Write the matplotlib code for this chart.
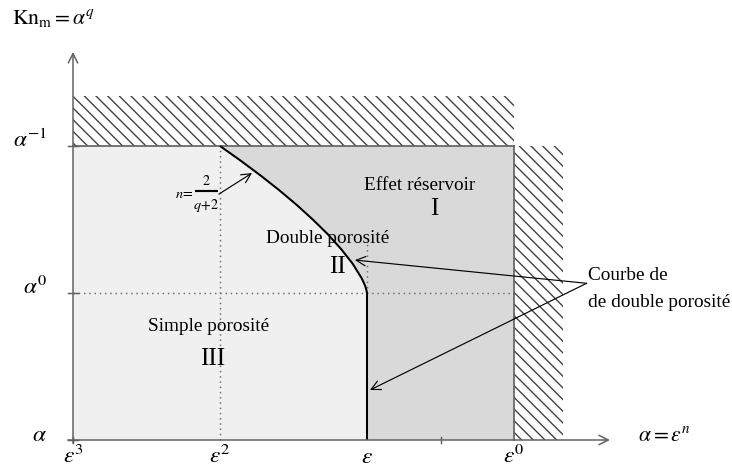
import matplotlib
matplotlib.use("Agg")
import matplotlib.pyplot as plt
from matplotlib.patches import Rectangle, Polygon

plt.rcParams['font.family'] = ['Liberation Serif', 'DejaVu Serif']
plt.rcParams['mathtext.fontset'] = 'stix'
plt.rcParams['hatch.linewidth'] = 0.7

# Axes: x = position of eps^n (eps^3 .. eps^0), y = position of alpha^q (alpha .. alpha^-1)
x_ticks = [0, 1, 2, 3]
x_labels = [r'$\varepsilon^3$', r'$\varepsilon^2$', r'$\varepsilon$', r'$\varepsilon^0$']
y_ticks = [0, 1, 2]
y_labels = [r'$\alpha$', r'$\alpha^0$', r'$\alpha^{-1}$']

# Courbe de double porosite, puis verticale jusqu'a alpha
curve_x = [1.000, 1.141, 1.275, 1.402, 1.521, 1.631, 1.733, 1.823, 1.902, 1.964, 1.987, 1.996, 2.000, 2.000]
curve_y = [2.000, 1.900, 1.800, 1.700, 1.600, 1.500, 1.400, 1.300, 1.200, 1.100, 1.050, 1.020, 1.000, 0.000]

# Region labels
regions = ["Simple porosité", "Double porosité", "Effet réservoir"]
region_nums = ["III", "II", "I"]
region_pos = [(0.92, 0.77), (1.73, 1.37), (2.36, 1.73)]
num_pos = [(0.95, 0.55), (1.80, 1.18), (2.46, 1.57)]

light = '#f0f0f0'
dark = '#d9d9d9'
axis_col = '#606060'

# dpi 140 -> pas des hachures ~11.7 px comme sur la figure
fig = plt.figure(figsize=(732 / 140, 469 / 140), dpi=140)
ax = fig.add_axes([0, 0, 1, 1])
ax.set_xlim(-73 / 147, 659 / 147)
ax.set_ylim(-29 / 147, 440 / 147)
ax.axis('off')

# fonds gris
ax.add_patch(Rectangle((0, 0), 3, 2, facecolor=light, edgecolor='none', zorder=1))
poly = list(zip(curve_x, curve_y)) + [(3, 0), (3, 2)]
ax.add_patch(Polygon(poly, closed=True, facecolor=dark, edgecolor='none', zorder=2))

# hachures
ax.add_patch(Rectangle((0, 2), 3, 0.34, facecolor='none', edgecolor='#404040',
                       hatch='\\\\\\\\', lw=0, zorder=2))
ax.add_patch(Rectangle((3, 0), 0.333, 2, facecolor='none', edgecolor='#404040',
                       hatch='\\\\\\\\', lw=0, zorder=2))

# pointilles
dots = dict(color='#707070', lw=0.77, ls=(0, (1, 2.5)), zorder=3)
ax.plot([1, 1], [0, 2], **dots)
ax.plot([0, 3], [1, 1], **dots)
ax.plot([2, 2], [1, 1.36], **dots)

# bords du domaine
ax.plot([0, 3], [2, 2], color=axis_col, lw=0.86, zorder=4)
ax.plot([3, 3], [0, 2], color=axis_col, lw=0.86, zorder=4)

# courbe
ax.plot(curve_x, curve_y, color='black', lw=1.05, zorder=5,
        solid_capstyle='butt', solid_joinstyle='round')

# axes avec fleches
arr = dict(arrowstyle='->', color=axis_col, lw=0.77, mutation_scale=12, shrinkA=0, shrinkB=0)
ax.annotate('', xy=(3.653, 0), xytext=(-0.035, 0), arrowprops=arr, zorder=6)
ax.annotate('', xy=(0, 2.64), xytext=(0, -0.02), arrowprops=arr, zorder=6)
for yt in y_ticks:
    ax.plot([-0.035, 0.035], [yt, yt], color=axis_col, lw=0.77, zorder=6)
for xt in [0, 2.5]:
    ax.plot([xt, xt], [-0.02, 0.02], color=axis_col, lw=0.77, zorder=6)

for xt, lab in zip(x_ticks, x_labels):
    ax.text(xt, -0.157, lab, ha='center', va='baseline', fontsize=12)
for yt, lab in zip(y_ticks, y_labels):
    ax.text(-0.177, yt - 0.007, lab, ha='right', va='baseline', fontsize=12)

ax.text(-0.415, 2.83, r'$\mathrm{Kn}_\mathrm{m} = \alpha^q$', ha='left', va='baseline', fontsize=11.1)
ax.text(3.844, -0.007, r'$\alpha = \varepsilon^n$', ha='left', va='baseline', fontsize=11.1)

for name, num, p1, p2 in zip(regions, region_nums, region_pos, num_pos):
    ax.text(p1[0], p1[1], name, ha='center', va='center', fontsize=9.9, zorder=7)
    ax.text(p2[0], p2[1], num, ha='center', va='center', fontsize=12.9, zorder=7)

# n = 2/(q+2)
ax.text(0.818, 1.672, r'$n\!=$', ha='right', va='center', fontsize=7.3, zorder=7)
ax.plot([0.83, 0.986], [1.694, 1.694], color='black', lw=1.1, zorder=7, solid_capstyle='butt')
ax.text(0.905, 1.765, r'$2$', ha='center', va='center', fontsize=7.3, zorder=7)
ax.text(0.905, 1.592, r'$q\!+\!2$', ha='center', va='center', fontsize=7.3, zorder=7)
thin = dict(arrowstyle='->', color='black', lw=0.6, mutation_scale=12, shrinkA=0, shrinkB=0)
ax.annotate('', xy=(1.218, 1.816), xytext=(0.993, 1.673), arrowprops=thin, zorder=7)

# Courbe de double porosite
ax.text(3.503, 1.088, "Courbe de", ha='left', va='baseline', fontsize=9.9)
ax.text(3.503, 0.907, "de double porosité", ha='left', va='baseline', fontsize=9.9)
ax.annotate('', xy=(1.918, 1.224), xytext=(3.494, 1.066), arrowprops=thin, zorder=7)
ax.annotate('', xy=(2.02, 0.34), xytext=(3.494, 1.066), arrowprops=thin, zorder=7)

fig.savefig("out.png", dpi=140, facecolor='white')
